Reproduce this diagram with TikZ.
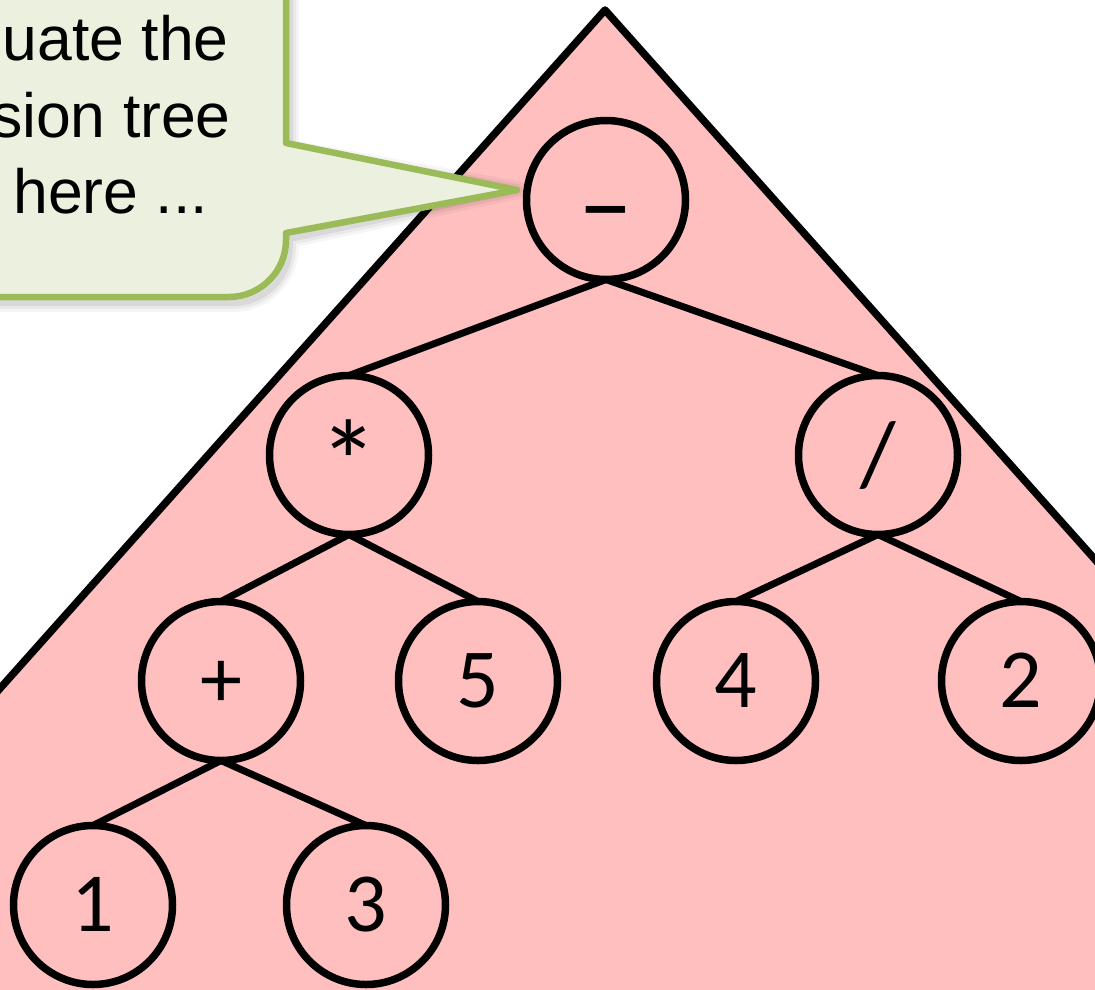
\documentclass[tikz,border=0pt]{standalone}
\usepackage{fontspec}
\setmainfont{Carlito}
\newfontfamily\callfont{Liberation Sans}
\definecolor{treepink}{RGB}{255,191,191}
\definecolor{callfill}{RGB}{235,241,222}
\definecolor{callline}{RGB}{155,187,89}
\begin{document}
\begin{tikzpicture}[x=1pt,y=-1pt,
  tnode/.style={circle,draw=black,fill=treepink,line width=7.5pt,minimum size=159pt,inner sep=0pt,outer sep=0pt,
    font=\fontsize{84}{84}\selectfont,text height=53pt,text depth=0pt},
  tedge/.style={line width=7pt,line cap=round},
  calltext/.style={font=\callfont\fontsize{62.5}{62.5}\selectfont,inner sep=0pt,anchor=base east},
  callbox/.style={fill=callfill,draw=callline,line width=6.5pt,line join=round}]
\useasboundingbox (0,0) rectangle (1095,989);
\clip (0,0) rectangle (1095,989);
% big triangle
\draw[fill=treepink,line width=7.5pt,line join=round] (605,10) -- (1577,1100) -- (-367,1100) -- cycle;
% callout
\coordinate (tip) at (517,190);
\foreach \w/\o in {18/0.04,12/0.05,6/0.07}{
  \draw[shift={(4,6)},line width=\w pt,draw=black,opacity=\o,line join=round]
    (286,-60) -- (286,143) -- (tip) -- (286,233) -- (286,240) .. controls (286,271.5) and (260.5,297) .. (229,297) -- (-60,297);
}
\draw[callbox] (-60,-60) -- (286,-60) -- (286,143) -- (tip) -- (286,233) -- (286,240)
  .. controls (286,271.5) and (260.5,297) .. (229,297) -- (-60,297) -- cycle;
\node[calltext] (t1) at (229,60) {uate the};
\node[calltext] (t2) at (231,137) {sion tree};
\node[calltext] (t3) at (208,213) {here ...};
% tree nodes
\node[tnode] (minus) at (606,200) {\raisebox{-14pt}{\fontsize{110}{110}\selectfont –}};
\node[tnode] (mul)   at (349,455) {\raisebox{-22pt}{\fontsize{118}{118}\selectfont *}};
\node[tnode] (divn)  at (878,455) {\raisebox{-4pt}{\fontsize{92}{92}\selectfont /}};
\node[tnode] (plus)  at (221,681) {+};
\node[tnode] (five)  at (478,681) {5};
\node[tnode] (four)  at (736,681) {4};
\node[tnode] (two)   at (1021,681) {2};
\node[tnode] (one)   at (93,905) {1};
\node[tnode] (three) at (366,905) {3};
% edges
\draw[tedge] (minus.south) -- (mul.north);
\draw[tedge] (minus.south) -- (divn.north);
\draw[tedge] (mul.south) -- (plus.north);
\draw[tedge] (mul.south) -- (five.north);
\draw[tedge] (divn.south) -- (four.north);
\draw[tedge] (divn.south) -- (two.north);
\draw[tedge] (plus.south) -- (one.north);
\draw[tedge] (plus.south) -- (three.north);
\end{tikzpicture}
\end{document}
